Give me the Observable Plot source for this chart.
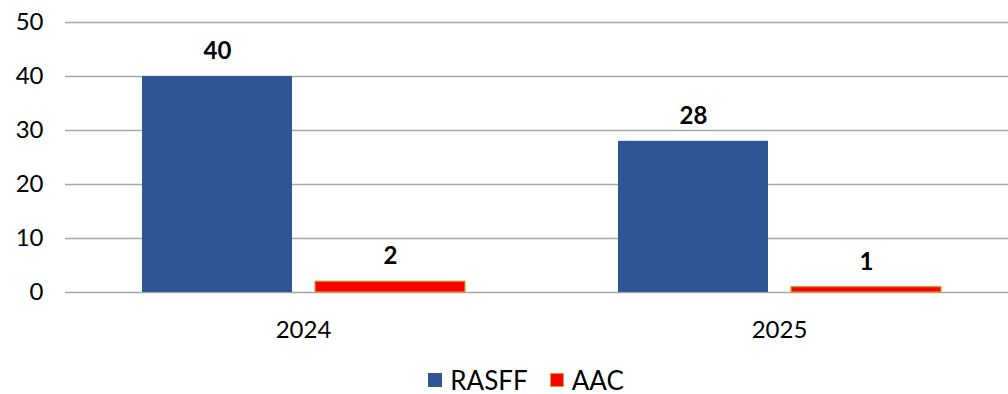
<!DOCTYPE html>
<html>
<head>
<meta charset="utf-8">
<script src="https://cdn.jsdelivr.net/npm/d3@7"></script>
<script src="https://cdn.jsdelivr.net/npm/@observablehq/plot@0.6"></script>
<style>
  html, body { margin: 0; padding: 0; background: #fff; overflow: hidden; }
  body { font-family: Lato, "DejaVu Sans", sans-serif; width: 1008px; height: 394px; }
  #legend { position: absolute; left: 0; top: 367px; width: 1008px; box-sizing: border-box; padding-left: 44px; display: flex; justify-content: center; font-size: 26px; line-height: 26px; color: #000; }
  .item { display: flex; align-items: center; margin: 0 11px; }
  .sw { width: 14px; height: 14px; margin-right: 8px; box-sizing: border-box; }
</style>
</head>
<body>
<div id="chart"></div>
<div id="legend"></div>
<script>
// Number of notifications per year and source
const years = ["2024", "2025"];
const seriesNames = ["RASFF", "AAC"];
const rasffValues = [40, 28];
const aacValues = [2, 1];
const yTicks = [0, 10, 20, 30, 40, 50];

const seriesColors = ["#2e5594", "#ff0000"];
const seriesStrokes = ["#2e5594", "#c9a227"];

const rows = years.flatMap((year, i) => [
  {year, series: seriesNames[0], value: rasffValues[i]},
  {year, series: seriesNames[1], value: aacValues[i]}
]);

const chart = Plot.plot({
  width: 1008,
  height: 350,
  marginTop: 22,
  marginBottom: 58,
  marginLeft: 65,
  marginRight: 0,
  style: {fontFamily: "Lato, sans-serif", fontSize: "24px", color: "#000", background: "#fff", overflow: "visible"},
  fx: {domain: years, range: [65, 1017], paddingInner: 0, paddingOuter: 0, label: null, tickSize: 0, tickPadding: 28},
  x: {domain: seriesNames, paddingInner: 0.133, paddingOuter: 0.442, axis: null},
  y: {domain: [0, 50], ticks: yTicks, tickSize: 0, tickPadding: 22, label: null},
  color: {domain: seriesNames, range: seriesColors},
  marks: [
    Plot.ruleY(yTicks, {stroke: "#a6a6a6", strokeWidth: 1.5}),
    Plot.barY(rows, {fx: "year", x: "series", y: "value", fill: "series"}),
    Plot.barY(rows.filter(d => d.series === "AAC"), {fx: "year", x: "series", y: "value", fill: "series", stroke: seriesStrokes[1], strokeWidth: 1.2}),
    Plot.text(rows, {fx: "year", x: "series", y: "value", text: d => String(d.value), dy: -25, fontWeight: "bold", fontSize: 24, fill: "#000"})
  ]
});
document.getElementById("chart").appendChild(chart);

// Legend below the chart
const legend = document.getElementById("legend");
seriesNames.forEach((name, i) => {
  const item = document.createElement("div");
  item.className = "item";
  const sw = document.createElement("span");
  sw.className = "sw";
  sw.style.background = seriesColors[i];
  sw.style.border = `1.5px solid ${seriesStrokes[i]}`;
  const label = document.createElement("span");
  label.textContent = name;
  item.append(sw, label);
  legend.append(item);
});
</script>
</body>
</html>
